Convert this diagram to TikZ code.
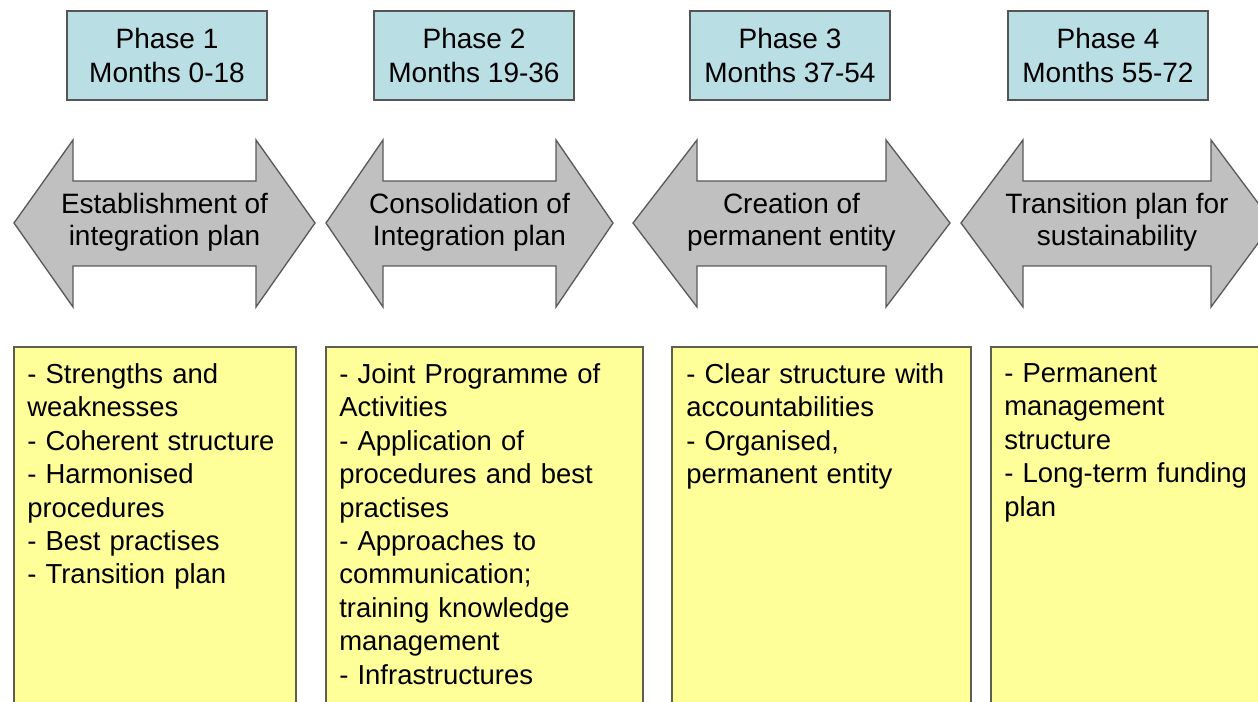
\documentclass[tikz,border=0pt]{standalone}
\usepackage{fontspec}
\setmainfont{Liberation Sans}
\usetikzlibrary{positioning}
\definecolor{phasecyan}{RGB}{185,222,228}
\definecolor{phaseline}{RGB}{85,85,85}
\definecolor{arrowgray}{RGB}{192,192,192}
\definecolor{arrowline}{RGB}{90,90,90}
\definecolor{taskyellow}{RGB}{255,255,153}
\definecolor{taskline}{RGB}{95,95,80}

\begin{document}
\begin{tikzpicture}[x=0.75pt, y=-0.75pt,
    phase/.style={draw=phaseline,fill=phasecyan,line width=1pt,minimum width=150pt,minimum height=66.75pt,align=center,inner sep=0pt,font=\fontsize{21}{25}\selectfont},
    span/.style={draw=arrowline,fill=arrowgray,line width=1pt,line join=miter},
    spantext/.style={align=center,inner sep=0pt,font=\fontsize{21}{24}\selectfont},
    task/.style={draw=taskline,fill=taskyellow,line width=1pt},
    tasktext/.style={anchor=north west,align=left,text width=9cm,inner sep=0pt,font=\fontsize{20.6}{25.1}\selectfont}]
  \useasboundingbox (0,0) rectangle (1258,702);
  \clip (0,0) rectangle (1258,702);

  % phase headers
  \node[phase] (p1) at (167,55.5) {Phase 1\\Months 0-18};
  \node[phase] (p2) at (474,55.5) {Phase 2\\Months 19-36};
  \node[phase] (p3) at (790,55.5) {Phase 3\\Months 37-54};
  \node[phase] (p4) at (1108,55.5) {Phase 4\\Months 55-72};

  % double arrows: left tip / right tip / head length
  \foreach \n/\l/\r/\h/\txt in {1/14/315/59/{Establishment of\\integration plan},
      2/326/613/57/{Consolidation of\\Integration plan},
      3/633/950/64/{Creation of\\permanent entity},
      4/961/1273/62/{Transition plan for\\sustainability}} {
    \draw[span] (\l,223) -- (\l+\h,140) -- (\l+\h,181) -- (\r-\h,181) -- (\r-\h,140)
      -- (\r,223) -- (\r-\h,307) -- (\r-\h,266) -- (\l+\h,266) -- (\l+\h,307) -- cycle;
    \node[spantext] (a\n) at ({(\l+\r)/2},222) {\txt};
  }

  % task lists
  \draw[task] (14,347) rectangle (296,740);
  \draw[task] (326,347) rectangle (643,740);
  \draw[task] (672,347) rectangle (971,740);
  \draw[task] (991,347) rectangle (1290,740);
  \node[tasktext] (t1) at (27,363) {- Strengths and\\weaknesses\\- Coherent structure\\- Harmonised\\procedures\\- Best practises\\- Transition plan};
  \node[tasktext] (t2) at (339,363) {- Joint Programme of\\Activities\\- Application of\\procedures and best\\practises\\- Approaches to\\communication;\\training knowledge\\management\\- Infrastructures};
  \node[tasktext] (t3) at (686,363) {- Clear structure with\\accountabilities\\- Organised,\\permanent entity};
  \node[tasktext] (t4) at (1004,363) {- Permanent\\management\\structure\\- Long-term funding\\plan};
\end{tikzpicture}
\end{document}
